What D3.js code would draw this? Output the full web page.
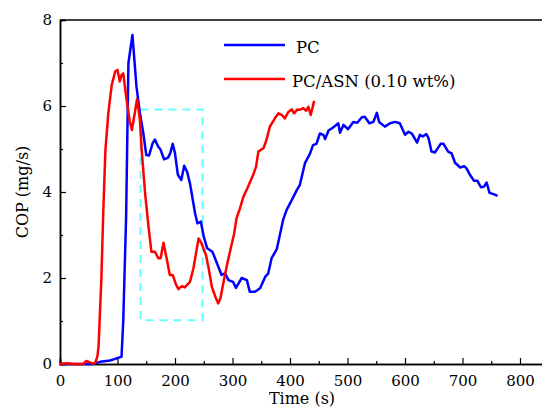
<!DOCTYPE html>
<html>
<head>
<meta charset="utf-8">
<script src="https://cdn.jsdelivr.net/npm/d3@7"></script>
<style>
  body { margin: 0; background: #fff; }
  svg { display: block; font-family: "DejaVu Serif", serif; }
</style>
</head>
<body>
<div id="chart"></div>
<script>
// Série PC (tempo em s, COP em mg/s)
const pcTime = [0, 20, 40, 55, 70, 87, 96, 103, 107, 110, 115, 119, 126, 133, 139, 145, 150, 155, 161, 165, 171, 175, 181, 188, 192, 196, 200, 205, 211, 216, 221, 226, 229, 235, 239, 245, 250, 256, 265, 272, 281, 287, 293, 301, 306, 316, 325, 330, 339, 348, 357, 362, 368, 377, 388, 394, 403, 412, 417, 426, 435, 440, 446, 452, 458, 461, 467, 475, 484, 487, 493, 501, 510, 517, 525, 530, 538, 545, 551, 555, 565, 574, 583, 591, 600, 606, 612, 621, 626, 631, 637, 641, 646, 652, 662, 667, 675, 681, 687, 696, 703, 707, 713, 720, 726, 732, 737, 742, 747, 754, 761];
const pcCop = [0, 0, 0, 0, 0.05, 0.08, 0.12, 0.15, 0.17, 1.0, 3.43, 7.0, 7.65, 6.45, 5.83, 5.36, 4.86, 4.85, 5.13, 5.22, 5.05, 4.98, 4.76, 4.8, 4.91, 5.12, 4.9, 4.4, 4.28, 4.61, 4.47, 4.2, 3.97, 3.5, 3.27, 3.31, 2.96, 2.69, 2.61, 2.38, 2.07, 2.11, 1.95, 1.91, 1.77, 2.0, 1.95, 1.68, 1.68, 1.76, 2.03, 2.1, 2.46, 2.67, 3.35, 3.58, 3.81, 4.05, 4.16, 4.67, 4.9, 5.09, 5.12, 5.36, 5.33, 5.23, 5.43, 5.5, 5.6, 5.38, 5.56, 5.46, 5.63, 5.61, 5.74, 5.75, 5.6, 5.63, 5.84, 5.63, 5.52, 5.6, 5.63, 5.6, 5.33, 5.4, 5.36, 5.15, 5.33, 5.29, 5.35, 5.25, 4.94, 4.92, 5.12, 5.12, 4.94, 4.9, 4.68, 4.57, 4.6, 4.55, 4.4, 4.26, 4.26, 4.11, 4.12, 4.22, 3.98, 3.95, 3.91];

// Série PC/ASN (0.10 wt%)
const asnTime = [0, 12, 25, 40, 46, 55, 61, 65, 67, 72, 75, 79, 84, 90, 96, 100, 104, 107, 110, 115, 121, 125, 130, 134, 139, 142, 148, 154, 159, 165, 171, 175, 180, 186, 191, 196, 202, 206, 212, 217, 226, 232, 241, 246, 254, 258, 264, 270, 275, 279, 285, 291, 297, 303, 307, 313, 319, 327, 336, 341, 345, 354, 359, 365, 374, 380, 386, 391, 397, 403, 407, 413, 417, 423, 428, 432, 436, 439, 442];
const asnCop = [0, 0.02, 0, 0, 0.07, 0.02, 0.02, 0.17, 0.4, 2.0, 3.43, 4.98, 5.83, 6.49, 6.8, 6.84, 6.57, 6.72, 6.76, 6.22, 5.67, 5.44, 5.83, 6.16, 5.67, 4.98, 3.97, 3.19, 2.61, 2.61, 2.46, 2.46, 2.82, 2.42, 2.07, 2.07, 1.84, 1.74, 1.81, 1.78, 1.91, 2.22, 2.92, 2.81, 2.53, 2.26, 1.8, 1.57, 1.41, 1.53, 1.95, 2.34, 2.69, 3.04, 3.39, 3.62, 3.89, 4.12, 4.4, 4.59, 4.94, 5.02, 5.21, 5.52, 5.72, 5.83, 5.79, 5.71, 5.86, 5.92, 5.83, 5.92, 5.91, 5.95, 5.89, 5.98, 5.79, 5.95, 6.12];

// Retângulo tracejado de destaque (tempo e COP)
const boxTime = [140, 248];
const boxCop = [1.02, 5.92];

const xMajor = [0, 100, 200, 300, 400, 500, 600, 700, 800];
const yMajor = [0, 2, 4, 6, 8];

const seriesNames = ["PC", "PC/ASN (0.10 wt%)"];
const seriesColors = ["#0000ff", "#ff0000"];

const width = 542, height = 410;
const margin = { left: 60, top: 20 };

const svg = d3.select('#chart').append('svg')
    .attr('width', width)
    .attr('height', height);

const x = d3.scaleLinear().domain([0, 840]).range([margin.left, margin.left + 840 * 0.575]);
const y = d3.scaleLinear().domain([0, 8]).range([364, 20]);

// Eixo X (ticks para dentro)
const xAxis = svg.append('g').attr('transform', `translate(0,${y(0)})`)
    .call(d3.axisBottom(x).tickValues(xMajor).tickSize(-6).tickPadding(11).tickFormat(d3.format('d')));
svg.append('g').attr('transform', `translate(0,${y(0)})`)
    .call(d3.axisBottom(x).tickValues(d3.range(50, 840, 100)).tickSize(-3).tickFormat(''));

// Eixo Y
svg.append('g').attr('transform', `translate(${x(0)},0)`)
    .call(d3.axisLeft(y).tickValues(yMajor).tickSize(-6).tickPadding(8).tickFormat(d3.format('d')));
svg.append('g').attr('transform', `translate(${x(0)},0)`)
    .call(d3.axisLeft(y).tickValues([1, 3, 5, 7]).tickSize(-3).tickFormat(''));

// Borda superior
svg.append('line')
    .attr('x1', x(0)).attr('x2', x(840))
    .attr('y1', y(8)).attr('y2', y(8))
    .attr('stroke', '#000').attr('stroke-width', 1.5);

svg.selectAll('.domain').attr('stroke', '#000').attr('stroke-width', 1.5);
svg.selectAll('.tick line').attr('stroke', '#000').attr('stroke-width', 1.2);
svg.selectAll('.tick text').attr('font-family', '"DejaVu Serif", serif').attr('font-size', 15).attr('fill', '#000');

// Títulos dos eixos
svg.append('text')
    .attr('x', 302).attr('y', 404)
    .attr('text-anchor', 'middle')
    .attr('font-size', 16)
    .text('Time (s)');

svg.append('text')
    .attr('transform', `translate(28,${(y(0) + y(8)) / 2}) rotate(-90)`)
    .attr('text-anchor', 'middle')
    .attr('font-size', 16)
    .text('COP (mg/s)');

// Retângulo tracejado
svg.append('rect')
    .attr('x', x(boxTime[0])).attr('y', y(boxCop[1]))
    .attr('width', x(boxTime[1]) - x(boxTime[0]))
    .attr('height', y(boxCop[0]) - y(boxCop[1]))
    .attr('fill', 'none')
    .attr('stroke', '#66ffff')
    .attr('stroke-width', 2)
    .attr('stroke-dasharray', '8,6');

// Linhas das séries
const line = d3.line().x(d => x(d[0])).y(d => y(d[1]));
const seriesData = [
    d3.zip(pcTime, pcCop),
    d3.zip(asnTime, asnCop)
];

seriesData.forEach((pts, i) => {
    svg.append('path')
        .datum(pts)
        .attr('d', line)
        .attr('fill', 'none')
        .attr('stroke', seriesColors[i])
        .attr('stroke-width', 2.5)
        .attr('stroke-linejoin', 'round');
});

// Legenda
const legendY = [45, 79];
const legendTextX = [296, 292];
seriesNames.forEach((name, i) => {
    svg.append('line')
        .attr('x1', 224).attr('x2', 285)
        .attr('y1', legendY[i]).attr('y2', legendY[i])
        .attr('stroke', seriesColors[i])
        .attr('stroke-width', 2.5);
    svg.append('text')
        .attr('x', legendTextX[i]).attr('y', legendY[i] + 8)
        .attr('font-size', 16.5)
        .text(name);
});
</script>
</body>
</html>
